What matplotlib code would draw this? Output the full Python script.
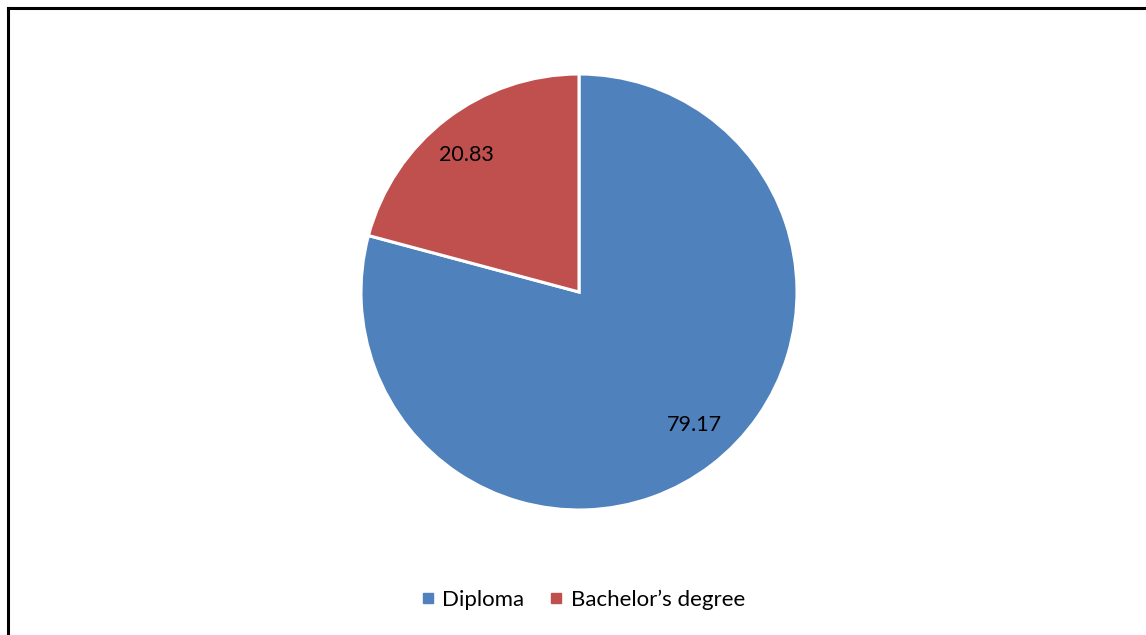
import matplotlib
matplotlib.use("Agg")
import matplotlib.pyplot as plt
from matplotlib.lines import Line2D

plt.rcParams['font.family'] = ['Lato', 'DejaVu Sans']

categories = ["Diploma", "Bachelor\u2019s degree"]
values = [79.17, 20.83]
colors = ["#4F81BD", "#C0504D"]

W, H = 1146, 635
fig = plt.figure(figsize=(W / 100, H / 100), dpi=100)

# outer frame (left and top edges visible)
fig.add_artist(Line2D([8 / W, 8 / W], [0, 1 - 8 / H], color="black", lw=2.2,
                      transform=fig.transFigure))
fig.add_artist(Line2D([8 / W, 1], [1 - 8 / H, 1 - 8 / H], color="black", lw=2.2,
                      transform=fig.transFigure))

cx, cy, r = 579, 292, 218
ax = fig.add_axes([(cx - r) / W, 1 - (cy + r) / H, 2 * r / W, 2 * r / H])
wedges, texts = ax.pie(
    values,
    colors=colors,
    startangle=90,
    counterclock=False,
    labels=[f"{v:.2f}" for v in values],
    labeldistance=0.81,
    wedgeprops=dict(edgecolor="white", linewidth=2.2),
    textprops=dict(fontsize=15.5, color="black"),
)
# data-label placement inside each slice
label_pos = [(0.528, -0.610), (-0.518, 0.630)]
for t, p in zip(texts, label_pos):
    t.set_position(p)
    t.set_ha("center")
    t.set_va("center")
ax.set_xlim(-1, 1)
ax.set_ylim(-1, 1)
ax.set_aspect("equal")

handles = [Line2D([], [], marker="s", linestyle="none", markersize=7,
                  markerfacecolor=c, markeredgecolor=c) for c in colors]
fig.legend(handles, categories, loc="center", bbox_to_anchor=(583 / W, 1 - 600 / H),
           ncol=2, frameon=False, fontsize=16, handlelength=0.6, handletextpad=0.35,
           columnspacing=1.15)

fig.savefig("out.png", dpi=100, facecolor="white")
